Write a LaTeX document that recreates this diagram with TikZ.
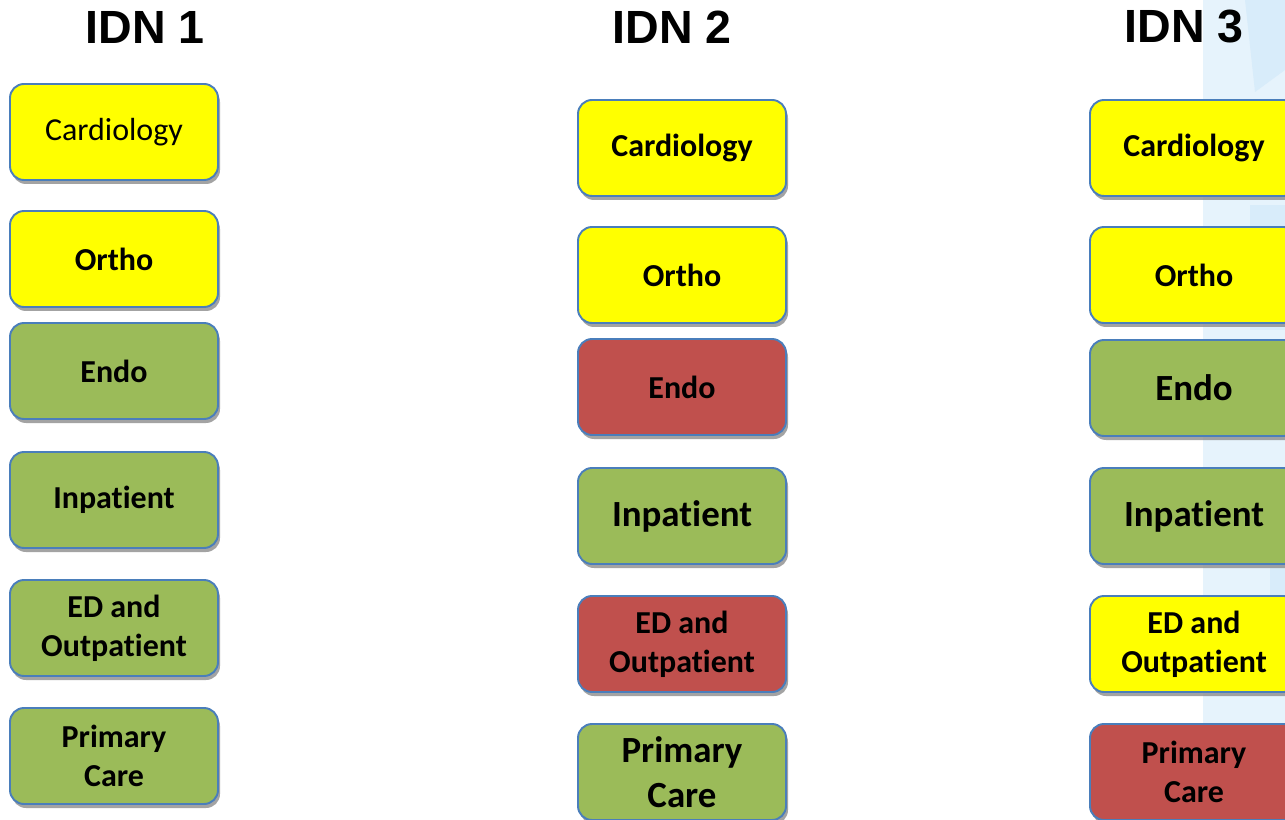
\documentclass[tikz,border=0pt]{standalone}
\usepackage{fontspec}
\setmainfont{Carlito}[Ligatures={NoCommon,NoContextual},Contextuals={NoAlternate}]
\newfontfamily\titlefont{Liberation Sans}
\usepackage{tikz}
\usetikzlibrary{shadows,positioning,calc}
\definecolor{boxyellow}{HTML}{FFFF00}
\definecolor{boxgreen}{HTML}{9BBB59}
\definecolor{boxred}{HTML}{C0504D}
\definecolor{boxline}{HTML}{4A7EBB}
\definecolor{bgblue}{HTML}{E6F3FC}
\definecolor{bgbluedark}{HTML}{D8ECFA}
\tikzstyle{unit}=[rectangle, rounded corners=2.8mm, draw=boxline, line width=1.1pt, minimum width=41.6mm, minimum height=19.2mm, inner sep=0pt, align=center, drop shadow={shadow xshift=0.4mm, shadow yshift=-0.8mm, fill=black!45, opacity=0.8}]
% no ti ligature
\newcommand{\inpat}{Inpat\kern0pt ient}
\newcommand{\outpat}{Outpat\kern0pt ient}

\begin{document}
\begin{tikzpicture}[x=0.2mm,y=-0.2mm,
		yel/.style={unit,fill=boxyellow},
		grn/.style={unit,fill=boxgreen},
		red/.style={unit,fill=boxred},
		norm/.style={font=\fontsize{18.2}{22.4}\selectfont\bfseries},
		big/.style={font=\fontsize{21}{25.6}\selectfont\bfseries},
		title/.style={font=\fontsize{26.5}{30}\selectfont\titlefont\bfseries}]
		\useasboundingbox (0,0) rectangle (1285,820);
		\clip (0,0) rectangle (1285,820);
		% background on the right
		\fill[bgblue] (1203,0) rectangle (1285,820);
		\fill[bgbluedark] (1245,0) -- (1285,0) -- (1285,70) -- (1255,92) -- cycle;
		\fill[bgbluedark] (1250,205) rectangle (1285,330);
		\fill[bgbluedark] (1270,540) rectangle (1285,600);
		\node[title] (t1) at (145,27) {IDN 1};
		\node[title] (t2) at (672,27) {IDN 2};
		\node[title] (t3) at (1184,27) {IDN 3};
		% IDN 1
		\node[yel,font=\fontsize{18.2}{22.4}\selectfont] (a1) at (114,132) {Cardiology};
		\node[yel,norm] (a2) at (114,259) {Ortho};
		\node[grn,norm] (a3) at (114,371) {Endo};
		\node[grn,norm] (a4) at (114,500) {\inpat};
		\node[grn,norm] (a5) at (114,628) {ED and\\\outpat};
		\node[grn,norm] (a6) at (114,756) {Primary\\Care};
		% IDN 2
		\node[yel,norm] (b1) at (682,148) {Cardiology};
		\node[yel,norm] (b2) at (682,275) {Ortho};
		\node[red,norm] (b3) at (682,387) {Endo};
		\node[grn,big] (b4) at (682,516) {\inpat};
		\node[red,norm] (b5) at (682,644) {ED and\\\outpat};
		\node[grn,big] (b6) at (682,772) {Primary\\Care};
		% IDN 3
		\node[yel,norm] (c1) at (1194,148) {Cardiology};
		\node[yel,norm] (c2) at (1194,275) {Ortho};
		\node[grn,big] (c3) at (1194,388) {Endo};
		\node[grn,big] (c4) at (1194,516) {\inpat};
		\node[yel,norm] (c5) at (1194,644) {ED and\\\outpat};
		\node[red,norm] (c6) at (1194,772) {Primary\\Care};
	\end{tikzpicture}
\end{document}
